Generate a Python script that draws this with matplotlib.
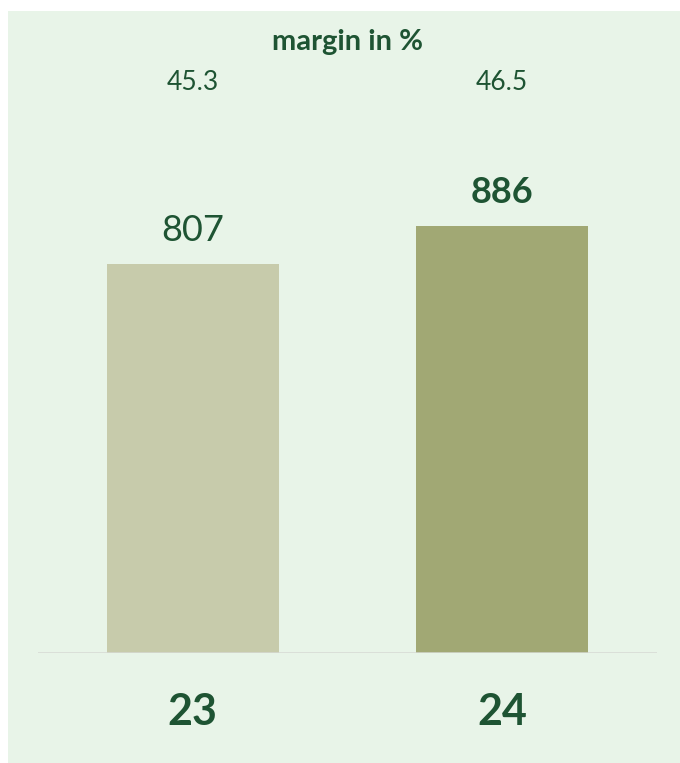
import matplotlib.pyplot as plt
from matplotlib.patches import Rectangle

categories = ["23", "24"]
values = [807, 886]
margins = ["45.3", "46.5"]
value_bold = [False, True]
bar_colors = ["#C7CBAB", "#A1A874"]

TEXT = "#1E5433"
PANEL = "#E8F4E8"
FONT = ["Lato", "DejaVu Sans"]

W, H = 680, 763
fig = plt.figure(figsize=(W / 100, H / 100), dpi=100)
fig.patch.set_facecolor("white")

# light green panel behind the chart
fig.patches.append(Rectangle((8 / W, 0), 1 - 8 / W, 1 - 11 / H,
                             transform=fig.transFigure, facecolor=PANEL,
                             edgecolor="none", zorder=-1))

# axes: baseline at y=653px, top at panel top, x from 38 to 657px
base_px = 653
ax = fig.add_axes([38 / W, (H - base_px) / H, (657 - 38) / W,
                   (base_px - 11) / H])
ax.set_facecolor("none")
px_per_unit = 427 / 886
ax.set_xlim(-0.5, 1.5)
ax.set_ylim(0, (base_px - 11) / px_per_unit)

xs = list(range(len(categories)))
ax.bar(xs, values, width=0.557, color=bar_colors, zorder=2)
ax.axhline(0, color="#D6D9D3", lw=1.8, zorder=3)

for x, v, b in zip(xs, values, value_bold):
    ax.text(x, v + 70, str(v), ha="center", va="center",
            fontsize=26, color=TEXT, family=FONT,
            fontweight="bold" if b else "normal")

for x, m in zip(xs, margins):
    ax.text(x, (base_px - 83) / px_per_unit, m, ha="center", va="center",
            fontsize=19, color=TEXT, family=FONT, fontweight="normal")

ax.text(0.5, (base_px - 42) / px_per_unit, "margin in %", ha="center",
        va="center", fontsize=21, color=TEXT, family=FONT,
        fontweight="bold")

for x, c in zip(xs, categories):
    ax.text(x, -(712 - base_px) / px_per_unit, c, ha="center", va="center",
            fontsize=31, color=TEXT, family=FONT, fontweight="bold",
            clip_on=False)

ax.axis("off")
fig.savefig("out.png", dpi=100)
